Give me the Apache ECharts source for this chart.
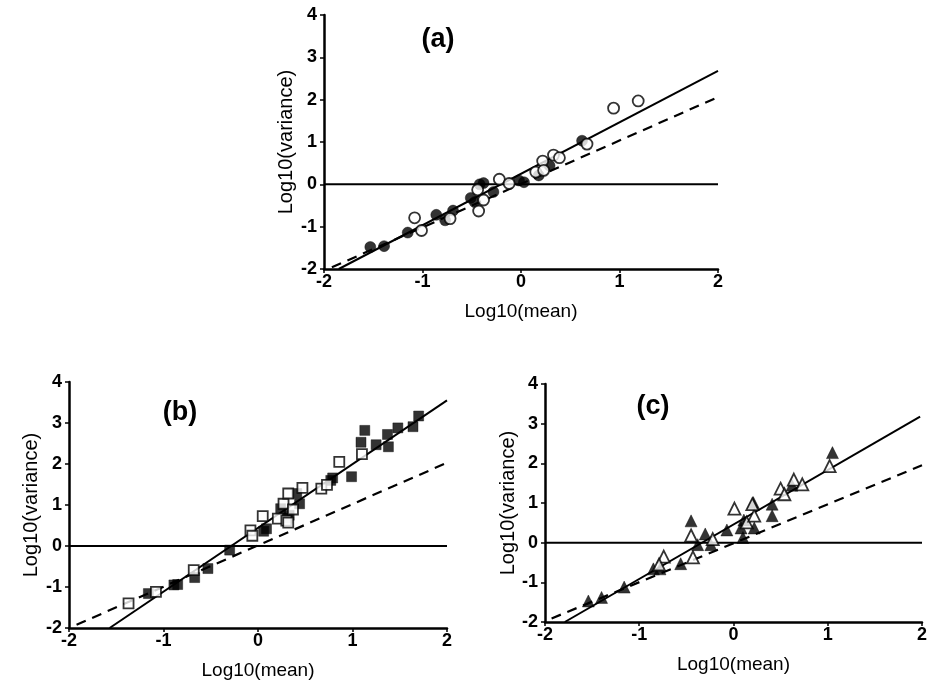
<!DOCTYPE html>
<html>
<head>
<meta charset="utf-8">
<script src="https://cdn.jsdelivr.net/npm/echarts@6/dist/echarts.min.js"></script>
<style>
html,body{margin:0;padding:0;background:#fff;}
#chart{width:930px;height:687px;}
</style>
</head>
<body>
<div id="chart"></div>
<script>
// ---------- data ----------
const panelLabels = ['(a)', '(b)', '(c)'];
const xTitle = 'Log10(mean)';
const yTitle = 'Log10(variance)';
const xMin = -2, xMax = 2, yMin = -2, yMax = 4;

// panel (a): circles
const aFilled = [[-1.53,-1.48],[-1.39,-1.46],[-1.15,-1.14],[-0.86,-0.72],[-0.77,-0.85],[-0.69,-0.62],[-0.51,-0.32],[-0.47,-0.42],[-0.42,0.0],[-0.38,0.03],[-0.28,-0.18],[-0.02,0.09],[0.03,0.05],[0.18,0.21],[0.29,0.44],[0.62,1.03]];
const aOpen = [[-1.08,-0.79],[-1.01,-1.09],[-0.72,-0.81],[-0.44,-0.13],[-0.43,-0.63],[-0.38,-0.37],[-0.22,0.12],[-0.12,0.02],[0.15,0.29],[0.22,0.55],[0.23,0.33],[0.33,0.69],[0.39,0.63],[0.67,0.95],[0.94,1.80],[1.19,1.97]];
const aSolid = [[-1.85,-2],[2,2.68]];
const aDashed = [[-1.92,-1.96],[2,2.06]];

// panel (b): squares
const bFilled = [[-1.16,-1.16],[-0.89,-0.95],[-0.85,-0.94],[-0.67,-0.77],[-0.53,-0.55],[-0.30,-0.10],[0.09,0.42],[0.06,0.36],[0.24,0.91],[0.33,0.75],[0.31,0.68],[0.41,1.28],[0.44,1.03],[0.77,1.60],[0.79,1.66],[0.99,1.69],[1.09,2.53],[1.13,2.82],[1.25,2.47],[1.37,2.72],[1.38,2.42],[1.48,2.88],[1.64,2.91],[1.70,3.17]];
const bOpen = [[-1.37,-1.40],[-1.08,-1.12],[-0.68,-0.59],[-0.08,0.38],[-0.06,0.25],[0.05,0.73],[0.21,0.67],[0.27,1.03],[0.32,1.28],[0.30,0.62],[0.32,0.57],[0.37,0.89],[0.47,1.42],[0.67,1.40],[0.73,1.49],[0.86,2.05],[1.10,2.24]];
const bSolid = [[-1.57,-2],[2,3.55]];
const bDashed = [[-1.92,-1.92],[1.97,2.0]];

// panel (c): triangles
const cFilled = [[-1.54,-1.47],[-1.40,-1.38],[-1.16,-1.12],[-0.85,-0.66],[-0.78,-0.66],[-0.56,-0.53],[-0.45,0.55],[-0.38,-0.05],[-0.30,0.22],[-0.24,-0.05],[-0.07,0.32],[0.10,0.13],[0.08,0.37],[0.11,0.57],[0.21,1.01],[0.22,0.37],[0.41,0.68],[0.41,0.97],[0.62,1.45],[1.05,2.27]];
const cOpen = [[-0.74,-0.35],[-0.79,-0.55],[-0.45,0.18],[-0.43,-0.37],[-0.22,0.09],[0.01,0.86],[0.14,0.51],[0.22,0.68],[0.20,0.97],[0.50,1.36],[0.54,1.22],[0.64,1.59],[0.73,1.47],[1.02,1.93]];
const cSolid = [[-1.79,-2],[1.98,3.18]];
const cDashed = [[-1.93,-1.91],[2,1.95]];

const zeroLine = [[-2,0],[2,0]];

// ---------- chart ----------
const FONT = 'Liberation Sans';
const grids = [
  {left:324, top:15, width:394, height:254},
  {left:69, top:382, width:378, height:246},
  {left:545, top:384, width:382, height:238}
];

function xAx(i){
  return {
    gridIndex:i, type:'value', min:xMin, max:xMax, interval:1,
    name:xTitle, nameLocation:'middle', nameGap:33,
    nameTextStyle:{fontFamily:FONT, fontSize:19, color:'#000'},
    axisLine:{onZero:false, lineStyle:{color:'#000', width:2.5}},
    axisTick:{show:true, length:4, lineStyle:{color:'#000', width:1.5}},
    axisLabel:{fontFamily:FONT, fontWeight:'bold', fontSize:18, color:'#000', margin:4},
    splitLine:{show:false}
  };
}
function yAx(i, gap){
  return {
    gridIndex:i, type:'value', min:yMin, max:yMax, interval:1,
    name:yTitle, nameLocation:'middle', nameGap:gap,
    nameTextStyle:{fontFamily:FONT, fontSize:20, color:'#000'},
    axisLine:{onZero:false, lineStyle:{color:'#000', width:2.5}},
    axisTick:{show:true, length:4, lineStyle:{color:'#000', width:1.5}},
    axisLabel:{fontFamily:FONT, fontWeight:'bold', fontSize:18, color:'#000', margin:7},
    splitLine:{show:false}
  };
}

function lineSeries(i, data, dashed, w){
  return {type:'line', xAxisIndex:i, yAxisIndex:i, data:data, symbol:'none', silent:true,
    lineStyle:{color:'#000', width:w, type: dashed ? [10,7] : 'solid'}, z:2, animation:false};
}
function scat(i, data, sym, size, open){
  return {type:'scatter', xAxisIndex:i, yAxisIndex:i, data:data, symbol:sym, symbolSize:size,
    itemStyle: open ? {color:'#fff', borderColor:'#000', borderWidth:1.8} : {color:'#000', borderColor:'#000', borderWidth:0.5},
    z: open ? 4 : 3, animation:false};
}

const series = [];
const sets = [
  [aFilled, aOpen, aSolid, aDashed, 'circle', 11],
  [bFilled, bOpen, bSolid, bDashed, 'rect', 10],
  [cFilled, cOpen, cSolid, cDashed, 'triangle', 12]
];
sets.forEach((s,i)=>{
  series.push(lineSeries(i, zeroLine, false, 2));
  series.push(lineSeries(i, s[2], false, 2));
  series.push(lineSeries(i, s[3], true, 2.2));
  series.push(scat(i, s[0], s[4], s[5], false));
  series.push(scat(i, s[1], s[4], s[5], true));
});

const labelPos = [[438,40],[180,413],[653,407]];
const chart = echarts.init(document.getElementById('chart'), null, {renderer:'canvas'});
chart.setOption({
  backgroundColor:'#fff',
  animation:false,
  grid: grids,
  xAxis:[xAx(0), xAx(1), xAx(2)],
  yAxis:[yAx(0,28), yAx(1,28), yAx(2,26)],
  series: series,
  graphic: panelLabels.map((t,i)=>({type:'text', x:labelPos[i][0], y:labelPos[i][1],
    style:{text:t, font:'bold 27px ' + FONT, fill:'#000', textAlign:'center', textVerticalAlign:'middle'}}))
});
</script>
</body>
</html>
